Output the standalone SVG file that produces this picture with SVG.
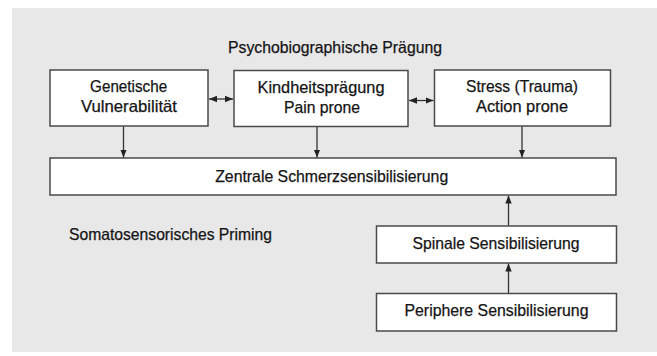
<svg xmlns="http://www.w3.org/2000/svg" width="657" height="356" viewBox="0 0 657 356">
<style>
  .box { fill: #ffffff; stroke: #4a4a4a; stroke-width: 1.5; }
  .t { font-family: "Liberation Sans", Arial, sans-serif; font-size: 16.5px; fill: #141414; stroke: #141414; stroke-width: 0.25; text-anchor: middle; }
  .tl { font-family: "Liberation Sans", Arial, sans-serif; font-size: 16.5px; fill: #141414; stroke: #141414; stroke-width: 0.25; }
  .con { stroke: #333333; stroke-width: 1.3; fill: none; }
</style>
<defs>
  <marker id="ah" viewBox="0 0 8 8" refX="8" refY="4" markerWidth="8" markerHeight="8" markerUnits="userSpaceOnUse" orient="auto-start-reverse">
    <path d="M0,0.8 L8,4 L0,7.2 Z" fill="#222222"/>
  </marker>
</defs>
<rect x="12" y="8" width="645" height="344" fill="#e8e8e9"/>
<text class="t" x="335" y="53" textLength="214" lengthAdjust="spacingAndGlyphs">Psychobiographische Prägung</text>
<text class="tl" x="69" y="240" textLength="203" lengthAdjust="spacingAndGlyphs">Somatosensorisches Priming</text>
<g id="genetisch">
  <rect class="box" x="50" y="70" width="158" height="56"/>
  <text class="t" x="128.6" y="92" textLength="77" lengthAdjust="spacingAndGlyphs">Genetische</text>
  <text class="t" x="129" y="112" textLength="96" lengthAdjust="spacingAndGlyphs">Vulnerabilität</text>
</g>
<g id="kindheit">
  <rect class="box" x="234" y="70.5" width="174" height="56"/>
  <text class="t" x="321" y="93" textLength="127" lengthAdjust="spacingAndGlyphs">Kindheitsprägung</text>
  <text class="t" x="322" y="113" textLength="76" lengthAdjust="spacingAndGlyphs">Pain prone</text>
</g>
<g id="stress">
  <rect class="box" x="434.5" y="70" width="176" height="56"/>
  <text class="t" x="522" y="92" textLength="112" lengthAdjust="spacingAndGlyphs">Stress (Trauma)</text>
  <text class="t" x="522" y="112" textLength="92" lengthAdjust="spacingAndGlyphs">Action prone</text>
</g>
<g id="zentral">
  <rect class="box" x="50" y="158" width="566" height="37"/>
  <text class="t" x="331.7" y="182" textLength="233" lengthAdjust="spacingAndGlyphs">Zentrale Schmerzsensibilisierung</text>
</g>
<g id="spinal">
  <rect class="box" x="376.5" y="226" width="240" height="37"/>
  <text class="t" x="496" y="248.5" textLength="167" lengthAdjust="spacingAndGlyphs">Spinale Sensibilisierung</text>
</g>
<g id="peripher">
  <rect class="box" x="376.5" y="293.5" width="240" height="37.5"/>
  <text class="t" x="496.5" y="316" textLength="184" lengthAdjust="spacingAndGlyphs">Periphere Sensibilisierung</text>
</g>
<g id="connectors">
  <line class="con" x1="209" y1="99" x2="233" y2="99" marker-start="url(#ah)" marker-end="url(#ah)"/>
  <line class="con" x1="409" y1="100.5" x2="433.5" y2="100.5" marker-start="url(#ah)" marker-end="url(#ah)"/>
  <line class="con" x1="123.5" y1="126.5" x2="123.5" y2="157.5" marker-end="url(#ah)"/>
  <line class="con" x1="317" y1="127" x2="317" y2="157.5" marker-end="url(#ah)"/>
  <line class="con" x1="522" y1="126.5" x2="522" y2="157.5" marker-end="url(#ah)"/>
  <line class="con" x1="508.5" y1="225.5" x2="508.5" y2="195.5" marker-end="url(#ah)"/>
  <line class="con" x1="508.5" y1="293" x2="508.5" y2="263.5" marker-end="url(#ah)"/>
</g>
</svg>
